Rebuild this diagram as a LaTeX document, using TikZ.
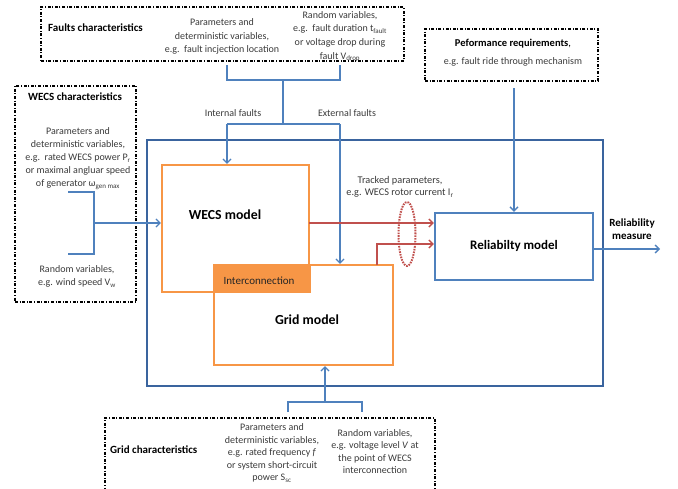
\documentclass[tikz,border=0pt]{standalone}
\usepackage{fontspec}
\setmainfont{Carlito}
\usetikzlibrary{arrows.meta,shapes.geometric}
\definecolor{bluel}{HTML}{4F81BD}
\definecolor{blued}{HTML}{3A649E}
\definecolor{orng}{HTML}{F79646}
\definecolor{redl}{HTML}{C0504D}
\definecolor{txtc}{HTML}{3A3A3A}
\begin{document}
\begin{tikzpicture}[x=1pt,y=-1pt,
  chbox/.style={draw=black, line width=1.3pt, dash pattern=on 3pt off 1.6pt on 1pt off 1.6pt, inner sep=0},
  body/.style={font=\fontsize{10}{13}\selectfont, align=center, text=txtc, inner sep=0},
  ttl/.style={font=\bfseries\fontsize{11}{13}\selectfont, align=center, text=black, inner sep=0},
  big/.style={font=\bfseries\fontsize{13.8}{16}\selectfont, text=black, inner sep=0},
  conn/.style={draw=bluel, line width=1.5pt},
  arr/.style={conn, -{Straight Barb[length=4pt,width=8pt,line width=1.3pt]}},
  redarr/.style={draw=redl, line width=1.5pt, -{Straight Barb[length=4pt,width=8pt,line width=1.3pt]}},
  obox/.style={draw=orng, line width=2.2pt, inner sep=0}
]
\useasboundingbox (0,0) rectangle (678,488);
\begin{scope}
\clip (0,0) rectangle (678,488);
% characteristic boxes
\node[chbox, minimum width=363, minimum height=54] (faults) at (222.5,34) {};
\node[chbox, minimum width=121, minimum height=216] (wchar) at (75.5,194) {};
\node[chbox, minimum width=173, minimum height=52] (perf) at (511.5,55) {};
\node[chbox, minimum width=330, minimum height=84] (gchar) at (270,460) {};
\end{scope}
% outer box
\node[draw=blued, line width=2.6pt, minimum width=456, minimum height=246, inner sep=0] (outer) at (375,263) {};
% models
\node[obox, minimum width=147, minimum height=127] (wecs) at (235.5,228.5) {};
\node[obox, minimum width=179, minimum height=100] (grid) at (303.5,315) {};
\node[obox, fill=orng, minimum width=96, minimum height=27] (inter) at (262,278.5) {};
\node[draw=bluel, line width=2.4pt, minimum width=158, minimum height=67, inner sep=0] (rel) at (514,246.5) {};

% texts
\node[ttl, anchor=west] (tf) at (48,28) {Faults characteristics};
\node[body, font=\fontsize{10}{13.6}\selectfont] (fp) at (222,36.5) {Parameters and\\deterministic variables,\\e.g.\ \ fault incjection location};
\node[body, font=\fontsize{10}{13.6}\selectfont] (fr) at (340,36.5) {Random variables,\\e.g.\ \ fault duration t\textsubscript{fault}\\or voltage drop during\\fault V\textsubscript{drop}};
\node[ttl] (tw) at (75,97) {WECS characteristics};
\node[body] (wp) at (78,158.5) {Parameters and\\deterministic variables,\\e.g.\ \ rated WECS power P\textsubscript{r}\\or maximal angluar speed\\of generator ω\textsubscript{gen max}};
\node[body] (wr) at (77,276.5) {Random variables,\\e.g. wind speed V\textsubscript{w}};
\node[body] (intf) at (233,113) {Internal faults};
\node[body] (extf) at (347,113) {External faults};
\node[body, font=\fontsize{10.3}{12.5}\selectfont] (trk) at (400,187) {Tracked parameters,\\e.g. WECS rotor current I\textsubscript{r}};
\node[big] (wl) at (225,215) {WECS model};
\node[big] (gl) at (307,320) {Grid model};
\node[body, text=black!85, font=\fontsize{11}{12}\selectfont] (il) at (259,281) {Interconnection};
\node[big, font=\bfseries\fontsize{13}{16}\selectfont] (rl) at (514,246) {Reliabilty model};
\node[ttl] (rm) at (632,229.5) {Reliability\\measure};
\node[body, align=center] (pt) at (513,53) {{\fontsize{10.5}{13}\selectfont\textbf{\color{black}Peformance requirements}\textcolor{black}{,}}\\[5pt]e.g. fault ride through mechanism};
\node[ttl, anchor=west] (tg) at (110,450) {Grid characteristics};
\node[body, font=\fontsize{10}{12.6}\selectfont] (gp) at (272,453) {Parameters and\\deterministic variables,\\e.g. rated frequency \textit{f}\\or system short-circuit\\power S\textsubscript{sc}};
\node[body, font=\fontsize{10}{12.6}\selectfont] (gr) at (375,451.5) {Random variables,\\e.g. voltage level \textit{V} at\\the point of WECS\\interconnection};

% faults bracket
\coordinate (fa) at (227,65);
\coordinate (fb) at (340,65);
\coordinate (fm) at (283,80);
\coordinate (fi) at (227,124);
\coordinate (fe) at (340,124);
\draw[conn] (fa) |- (fb |- fm) -- (fb);
\draw[conn] (fm) -- (fm |- fi);
\draw[conn] (fi) -- (fe);
\draw[arr] (fi) -- (fi |- wecs.north);
\draw[arr] (fe) -- (fe |- grid.north);

% WECS char bracket
\coordinate (wa) at (68,192);
\coordinate (wb) at (68,254);
\coordinate (wc) at (94,223);
\draw[conn] (wa) -| (wc |- wb) -- (wb);
\draw[arr] (wc) -- (wc -| wecs.west);

% performance
\coordinate (pf) at (514,88);
\draw[arr] (pf) -- (rel.north);

% grid bracket
\coordinate (ga) at (288,412);
\coordinate (gb) at (362,412);
\coordinate (gm) at (325,402);
\draw[conn] (ga) |- (gb |- gm) -- (gb);
\draw[arr] (gm) -- (gm |- grid.south);

% output
\coordinate (outend) at (660,249);
\draw[arr] (rel.east |- outend) -- (outend);

% red arrows
\coordinate (r1) at (309,223);
\coordinate (r2) at (377,265);
\coordinate (r2b) at (377,244);
\draw[redarr] (r1) -- (r1 -| rel.west);
\draw[redarr] (r2) -- (r2b) -- (r2b -| rel.west);
\node[ellipse, draw=redl, line width=2pt, dash pattern=on 1.6pt off 1.1pt, minimum width=17, minimum height=64, inner sep=0] (trkell) at (407,234) {};
\end{tikzpicture}
\end{document}
